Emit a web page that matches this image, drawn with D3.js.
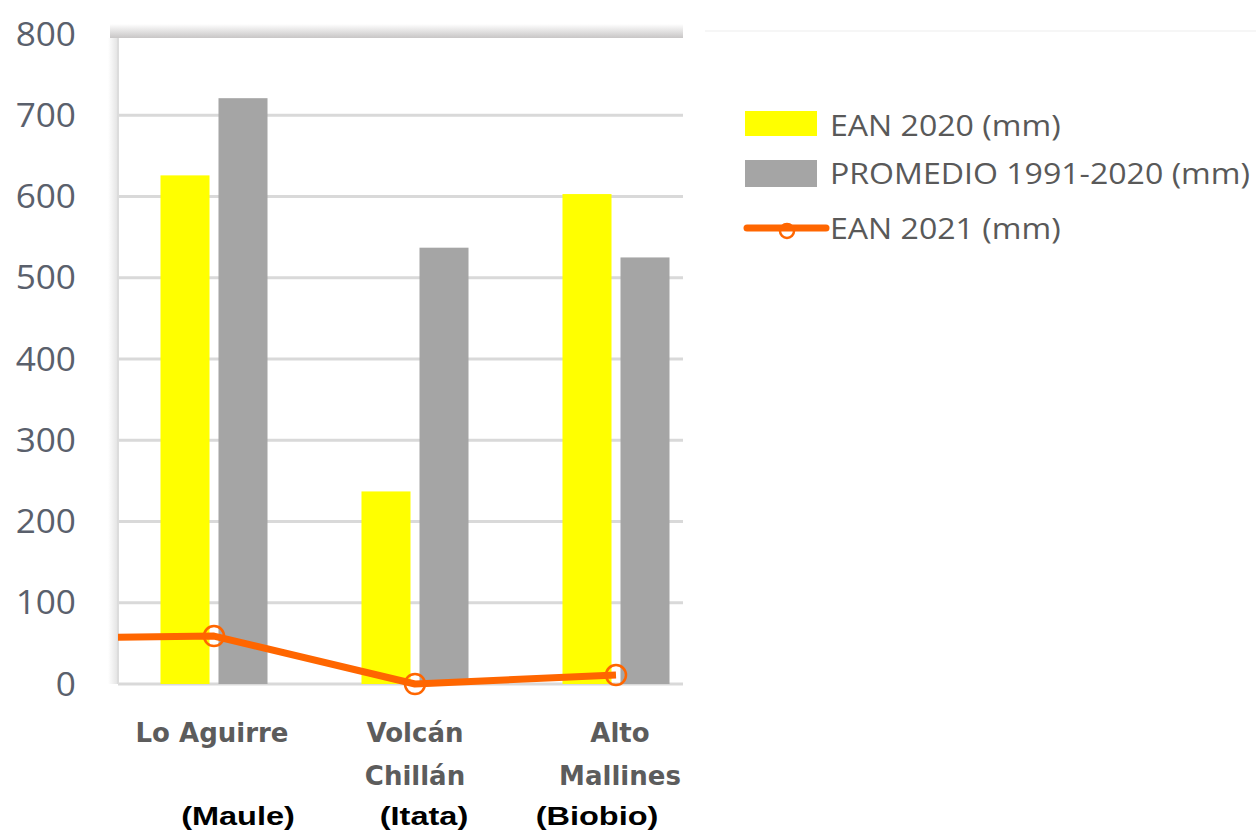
<!DOCTYPE html>
<html>
<head>
<meta charset="utf-8">
<script src="https://cdn.jsdelivr.net/npm/d3@7"></script>
<style>
  html, body { margin: 0; padding: 0; background: #fff; }
  svg { display: block; }
</style>
</head>
<body>
<svg id="chart" width="1256" height="835"></svg>
<script>
// Stations (two-line names) and their basins
const stations = ["Lo Aguirre", "Volcán Chillán", "Alto Mallines"];
const stationLines = [["Lo Aguirre"], ["Volcán", "Chillán"], ["Alto", "Mallines"]];
const basins = ["(Maule)", "(Itata)", "(Biobio)"];

// Snow water equivalent, mm
const ean2020 = [626, 237, 603];
const promedio = [721, 537, 525];
const ean2021 = [59, 0, 11];
// value of the series at the station preceding the first one (line enters from the left)
const ean2021Lead = 56;

const yTicks = [0, 100, 200, 300, 400, 500, 600, 700, 800];

const seriesNames = ["EAN 2020 (mm)", "PROMEDIO 1991-2020 (mm)", "EAN 2021 (mm)"];
const colors = { ean2020: "#ffff00", promedio: "#a5a5a5", ean2021: "#ff6600" };

const svg = d3.select("#chart");
const plot = { left: 118, right: 683, top: 34, bottom: 684 };

const y = d3.scaleLinear().domain([0, 800]).range([plot.bottom, plot.top]);
const x = d3.scaleBand().domain(stations).range([113.5, 716.5]).paddingInner(0).paddingOuter(0);
const inner = d3.scaleBand().domain(["ean2020", "promedio"]).range([0, x.bandwidth()])
  .paddingInner(0.155).paddingOuter(0.81);

const defs = svg.append("defs");
const grad = defs.append("linearGradient").attr("id", "topBand").attr("x1", 0).attr("y1", 0).attr("x2", 0).attr("y2", 1);
grad.append("stop").attr("offset", "0%").attr("stop-color", "#ffffff");
grad.append("stop").attr("offset", "100%").attr("stop-color", "#c8c6c6");
const gradL = defs.append("linearGradient").attr("id", "leftBand").attr("x1", 0).attr("y1", 0).attr("x2", 1).attr("y2", 0);
gradL.append("stop").attr("offset", "0%").attr("stop-color", "#ffffff");
gradL.append("stop").attr("offset", "100%").attr("stop-color", "#e2e2e2");
defs.append("clipPath").attr("id", "plotClip")
  .append("rect").attr("x", plot.left).attr("y", 0).attr("width", plot.right - plot.left).attr("height", 835);

// frame shading
svg.append("rect").attr("x", 110).attr("y", 24).attr("width", plot.right - 110).attr("height", 14).attr("fill", "url(#topBand)");
svg.append("rect").attr("x", 108).attr("y", 38).attr("width", 10).attr("height", plot.bottom - 38).attr("fill", "url(#leftBand)");
svg.append("line").attr("x1", 705).attr("x2", 1256).attr("y1", 31).attr("y2", 31).attr("stroke", "#f6f6f6").attr("stroke-width", 2);

// gridlines
svg.append("g").selectAll("line").data(yTicks.filter(d => d < 800)).join("line")
  .attr("x1", plot.left).attr("x2", plot.right)
  .attr("y1", d => y(d)).attr("y2", d => y(d))
  .attr("stroke", "#d9d9d9").attr("stroke-width", 3);
svg.append("line").attr("x1", plot.left).attr("x2", plot.left).attr("y1", 38).attr("y2", plot.bottom)
  .attr("stroke", "#dcdcdc").attr("stroke-width", 2);

// y axis labels
const yAxis = d3.axisLeft(y).tickValues(yTicks).tickSize(0).tickPadding(0).tickFormat(d3.format("d"));
const gy = svg.append("g").attr("transform", "translate(76,0)").call(yAxis);
gy.select(".domain").remove();
gy.selectAll(".tick text")
  .attr("x", null).attr("dy", null)
  .attr("transform", "translate(0,11) scale(1.1,1)")
  .attr("font-family", "'Open Sans', sans-serif")
  .attr("font-size", 32).attr("fill", "#5a606c");

// bars
const barData = stations.map((s, i) => ({ s, ean2020: ean2020[i], promedio: promedio[i] }));
const groups = svg.append("g").selectAll("g").data(barData).join("g")
  .attr("transform", d => `translate(${x(d.s)},0)`);
groups.selectAll("rect").data(d => ["ean2020", "promedio"].map(k => ({ k, v: d[k] }))).join("rect")
  .attr("x", d => inner(d.k)).attr("width", inner.bandwidth())
  .attr("y", d => y(d.v)).attr("height", d => y(0) - y(d.v))
  .attr("fill", d => colors[d.k]);

// EAN 2021 line
const cx = s => x(s) + x.bandwidth() / 2;
const linePts = [[cx(stations[0]) - x.step(), ean2021Lead]].concat(stations.map((s, i) => [cx(s), ean2021[i]]));
const line = d3.line().x(d => d[0]).y(d => y(d[1]));
svg.append("path").datum(linePts).attr("clip-path", "url(#plotClip)")
  .attr("d", line).attr("fill", "none").attr("stroke", colors.ean2021)
  .attr("stroke-width", 7).attr("stroke-linejoin", "round");
svg.append("g").selectAll("circle").data(stations).join("circle")
  .attr("cx", d => cx(d)).attr("cy", (d, i) => y(ean2021[i])).attr("r", 10)
  .attr("fill", "none").attr("stroke", colors.ean2021).attr("stroke-width", 2.5);

// category labels
const lab = svg.append("g").attr("font-family", "'DejaVu Sans', Verdana, sans-serif").attr("font-weight", 700)
  .attr("font-size", 26).attr("fill", "#5c5c5c").attr("text-anchor", "middle");
const labDx = [-2, 0, 4];
stationLines.forEach((lines, i) => {
  lines.forEach((t, j) => {
    lab.append("text").attr("x", cx(stations[i]) + labDx[i])
      .attr("y", 742 + j * 43).text(t);
  });
});
const basinX = [238, 424, 597];
svg.append("g").selectAll("text").data(basins).join("text")
  .attr("transform", (d, i) => `translate(${basinX[i]},825) scale(1.25,1)`)
  .attr("font-family", "'Liberation Sans', Arial, sans-serif").attr("font-weight", 700)
  .attr("font-size", 26).attr("fill", "#000").attr("text-anchor", "middle").text(d => d);

// legend
const leg = svg.append("g").attr("font-family", "'Open Sans', sans-serif").attr("font-size", 30).attr("fill", "#595959");
leg.append("rect").attr("x", 745).attr("y", 111).attr("width", 72).attr("height", 25).attr("fill", colors.ean2020);
leg.append("rect").attr("x", 745).attr("y", 160).attr("width", 72).attr("height", 27).attr("fill", colors.promedio);
leg.append("line").attr("x1", 747).attr("x2", 826).attr("y1", 228).attr("y2", 228)
  .attr("stroke", colors.ean2021).attr("stroke-width", 7).attr("stroke-linecap", "round");
leg.append("circle").attr("cx", 787).attr("cy", 231).attr("r", 7).attr("fill", "none")
  .attr("stroke", colors.ean2021).attr("stroke-width", 2.5);
const legY = [136, 184, 239];
seriesNames.forEach((n, i) => {
  leg.append("text").attr("transform", `translate(830,${legY[i]}) scale(1.07,1)`).text(n);
});
</script>
</body>
</html>
